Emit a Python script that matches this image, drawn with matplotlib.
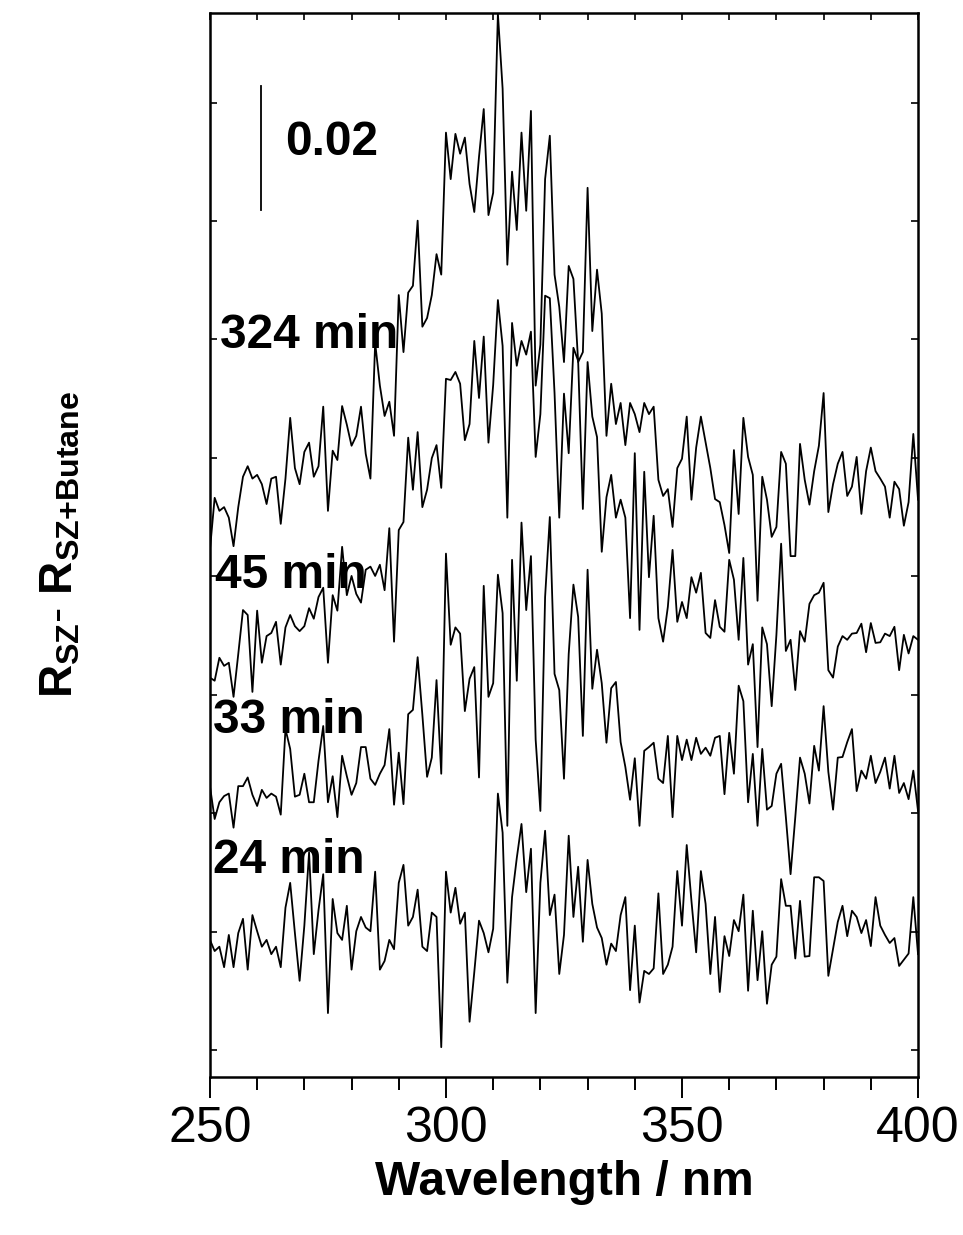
import matplotlib
matplotlib.use('Agg')
import matplotlib.pyplot as plt
import numpy as np

plt.rcParams['font.family'] = ['Liberation Sans', 'DejaVu Sans']
plt.rcParams['mathtext.fontset'] = 'custom'
plt.rcParams['mathtext.rm'] = 'Liberation Sans'
plt.rcParams['mathtext.bf'] = 'Liberation Sans:bold'

# wavelength grid, 1 nm step
wavelength = np.arange(250, 401, 1)

# difference spectra (units of 1e-3), stacked with offsets as in the original
r_324 = [85.0, 93.4, 91.3, 91.9, 90.2, 85.6, 91.9, 96.8, 98.5, 96.5,
         97.1, 95.6, 92.4, 96.5, 96.8, 89.2, 96.5, 106.3, 98.2, 95.6,
         100.8, 102.3, 96.8, 98.5, 108.1, 91.3, 101.0, 99.5, 108.2, 105.2,
         101.8, 103.4, 108.1, 100.5, 96.5, 118.4, 111.5, 106.6, 108.9, 103.4,
         126.1, 116.9, 126.5, 127.6, 138.1, 121.0, 122.4, 126.1, 132.7, 129.4,
         152.3, 144.8, 152.1, 148.9, 151.5, 144.0, 139.5, 148.4, 156.1, 139.0,
         142.6, 171.5, 159.4, 131.0, 146.0, 136.6, 152.3, 139.7, 155.8, 111.5,
         118.1, 144.8, 151.8, 129.4, 124.2, 115.3, 130.8, 128.7, 115.3, 116.9,
         143.4, 120.3, 130.2, 123.1, 103.4, 111.8, 105.3, 108.7, 101.9, 108.7,
         106.9, 104.0, 108.7, 106.9, 108.1, 96.3, 93.7, 94.8, 88.7, 98.2,
         99.7, 106.5, 93.1, 101.5, 106.5, 102.3, 98.2, 93.2, 92.7, 89.0,
         84.5, 101.1, 90.8, 106.3, 100.0, 97.1, 76.8, 96.8, 93.1, 87.1,
         88.7, 100.8, 98.9, 84.0, 84.0, 102.1, 96.3, 92.3, 97.7, 101.8,
         110.3, 91.1, 95.6, 98.9, 100.8, 93.7, 95.2, 100.0, 90.8, 97.7,
         101.5, 97.7, 96.5, 95.2, 90.2, 96.0, 94.8, 88.9, 92.7, 103.7,
         93.1]

r_45 = [64.4, 63.9, 67.6, 66.3, 66.8, 61.3, 68.2, 75.3, 74.5, 62.1,
        75.2, 66.8, 71.1, 71.6, 73.4, 66.5, 72.5, 74.5, 72.7, 71.9,
        72.7, 75.6, 73.9, 77.4, 78.9, 66.8, 77.7, 75.2, 85.5, 77.7,
        80.8, 77.9, 76.5, 81.8, 82.3, 80.8, 82.6, 78.5, 88.5, 70.2,
        88.2, 89.5, 103.1, 94.7, 104.0, 91.9, 94.7, 99.8, 101.9, 95.0,
        112.6, 112.4, 113.7, 111.8, 102.7, 105.3, 118.7, 109.5, 119.4, 102.3,
        111.6, 125.3, 117.9, 90.2, 121.6, 114.7, 118.7, 116.5, 120.2, 100.0,
        106.9, 126.0, 125.6, 110.3, 90.2, 110.2, 100.6, 117.6, 115.5, 91.6,
        115.3, 106.5, 103.2, 84.7, 93.5, 97.1, 90.2, 93.1, 90.2, 74.0,
        100.6, 72.1, 97.6, 80.6, 90.5, 74.0, 70.2, 75.8, 85.0, 73.4,
        76.6, 74.0, 80.6, 78.1, 81.3, 71.6, 70.8, 76.9, 72.6, 71.8,
        83.4, 80.2, 70.5, 83.7, 66.5, 69.8, 53.2, 72.5, 69.8, 59.8,
        71.3, 86.0, 68.7, 70.5, 62.4, 71.9, 70.2, 76.3, 77.7, 78.1,
        79.7, 65.6, 64.4, 69.4, 71.1, 70.5, 71.5, 71.6, 73.1, 68.5,
        73.2, 70.0, 70.1, 71.5, 71.1, 72.6, 65.6, 71.3, 68.3, 71.1,
        70.5]

r_33 = [46.9, 41.6, 44.3, 45.3, 45.7, 40.2, 46.9, 46.9, 48.3, 45.5,
        43.7, 46.3, 45.0, 45.7, 45.2, 42.3, 56.1, 52.9, 45.2, 45.5,
        48.9, 44.3, 44.3, 51.0, 56.6, 44.3, 48.5, 41.9, 51.8, 48.5,
        45.5, 47.4, 53.2, 53.2, 48.1, 47.1, 48.9, 50.3, 56.1, 43.9,
        52.3, 44.0, 58.5, 59.2, 67.7, 58.4, 48.4, 51.5, 64.0, 48.9,
        84.4, 69.7, 72.5, 71.5, 59.0, 64.2, 66.1, 48.3, 79.2, 61.3,
        63.5, 81.0, 74.8, 40.5, 83.4, 63.9, 89.4, 75.3, 84.0, 54.4,
        42.9, 77.4, 90.3, 65.0, 62.4, 48.1, 68.2, 79.4, 74.2, 55.0,
        81.8, 62.6, 68.9, 63.5, 53.9, 62.7, 63.7, 54.0, 50.0, 44.7,
        51.4, 40.5, 52.6, 53.2, 53.9, 48.1, 47.4, 55.0, 41.9, 55.0,
        51.1, 54.4, 51.1, 54.7, 52.1, 53.1, 51.8, 54.7, 55.0, 45.6,
        55.5, 48.9, 63.1, 60.6, 44.3, 52.1, 40.5, 52.9, 43.1, 43.7,
        48.9, 50.5, 41.9, 32.7, 41.9, 51.5, 48.9, 44.1, 53.4, 49.4,
        59.8, 49.2, 43.1, 51.5, 51.6, 54.0, 56.1, 46.1, 49.4, 48.1,
        51.8, 47.4, 49.2, 51.5, 46.5, 51.8, 45.8, 47.4, 44.8, 49.4,
        42.9]

r_24 = [22.1, 20.3, 21.0, 17.7, 22.9, 17.7, 23.2, 25.5, 17.3, 26.1,
        23.5, 21.0, 22.1, 19.8, 21.0, 17.7, 27.3, 31.3, 23.2, 15.5,
        24.4, 36.2, 19.8, 26.9, 32.7, 10.3, 28.7, 23.2, 22.1, 27.6,
        17.3, 23.5, 25.8, 24.1, 23.5, 33.1, 17.3, 18.7, 22.1, 20.6,
        31.3, 34.2, 24.4, 25.8, 30.2, 21.0, 20.3, 26.5, 25.8, 4.8,
        33.1, 26.5, 30.5, 24.7, 26.5, 8.9, 16.9, 25.2, 23.2, 20.1,
        23.9, 45.7, 39.4, 15.2, 29.0, 35.3, 40.8, 29.8, 36.8, 10.3,
        31.3, 39.7, 26.1, 29.4, 16.6, 22.9, 38.9, 25.8, 33.9, 21.8,
        35.0, 27.9, 24.1, 22.4, 18.1, 21.5, 20.3, 26.1, 29.0, 14.0,
        24.4, 12.0, 17.1, 16.6, 17.5, 29.6, 16.6, 18.1, 21.0, 33.2,
        24.4, 37.4, 28.4, 20.1, 33.2, 27.9, 16.6, 25.8, 13.7, 22.7,
        19.5, 25.3, 23.5, 29.4, 13.9, 26.8, 15.6, 23.5, 11.8, 18.1,
        19.4, 31.9, 27.6, 27.6, 19.1, 28.4, 19.4, 19.5, 32.2, 32.2,
        31.6, 16.3, 20.6, 25.0, 27.6, 22.7, 26.8, 25.8, 23.2, 25.3,
        21.1, 29.0, 24.4, 22.9, 21.6, 22.4, 17.9, 18.9, 19.9, 29.0,
        19.8]

labels = ['324 min', '45 min', '33 min', '24 min']
label_x = [252.1, 251.1, 250.6, 250.6]
label_y = [117.6, 78.9, 55.5, 32.9]

fig = plt.figure(figsize=(9.63, 12.35), dpi=100)
ax = fig.add_axes([0.218, 0.128, 0.7353, 0.8615])

for s in [r_324, r_45, r_33, r_24]:
    ax.plot(wavelength, s, color='black', lw=1.3)

for lab, xx, yy in zip(labels, label_x, label_y):
    ax.text(xx, yy, lab, fontsize=34.5, fontweight='bold', va='baseline', ha='left')

# scale bar 0.02
ax.plot([260.8, 260.8], [139.8, 159.8], color='black', lw=1.3)
ax.text(265.9, 148.7, '0.02', fontsize=34.5, fontweight='bold', va='baseline', ha='left')

ax.set_xlim(250, 400)
ax.set_ylim(0, 171.6)
ax.set_xticks([250, 300, 350, 400])
ax.set_xticks(np.arange(250, 401, 10), minor=True)
ax.set_yticks(np.arange(4.35, 170, 19.1))
ax.set_yticklabels([])
ax.tick_params(axis='x', which='major', direction='out', length=15, width=1.4,
               labelsize=36, pad=6, top=False)
ax.tick_params(axis='x', which='minor', direction='out', length=9, width=1.4, top=False)
ax.tick_params(axis='y', which='both', direction='in', length=5, width=1.2, right=True)

# inward ticks on top spine
sec = ax.secondary_xaxis('top')
sec.set_xticks(np.arange(250, 401, 10))
sec.tick_params(direction='in', length=5, width=1.2, labeltop=False)
sec.spines['top'].set_visible(False)

for sp in ax.spines.values():
    sp.set_linewidth(1.8)

ax.set_xlabel('Wavelength / nm', fontsize=34.5, fontweight='bold', labelpad=6)
ax.set_ylabel(r'$\mathbf{R_{SZ}}$- $\mathbf{R_{SZ{+}Butane}}$', fontsize=33, labelpad=88)

fig.savefig('out.png', dpi=100)
